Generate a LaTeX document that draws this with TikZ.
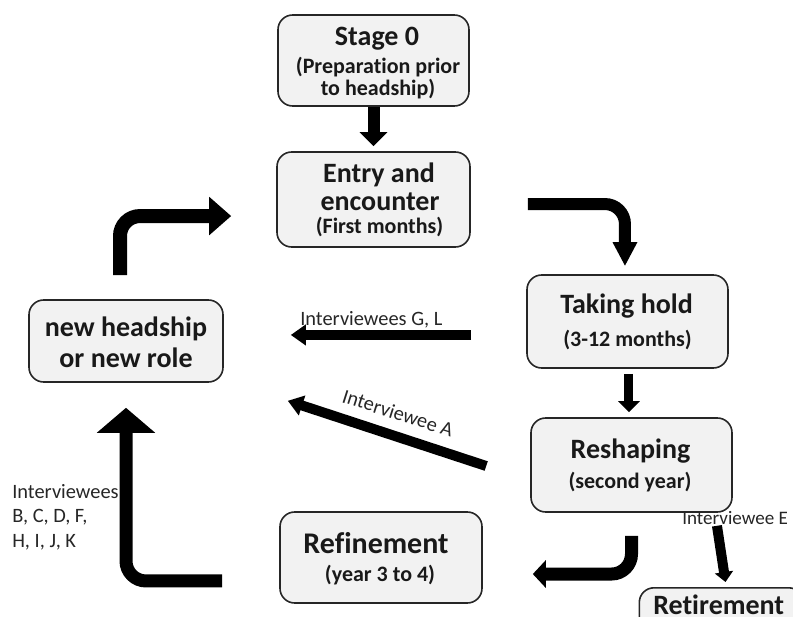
\documentclass[tikz,border=0pt]{standalone}
\usepackage{fontspec}
\setmainfont{Carlito}[Ligatures={NoCommon}]
\usetikzlibrary{arrows.meta}

\newcommand\ttlfont{\fontsize{21}{25}\selectfont\bfseries}
\newcommand\bigttlfont{\fontsize{22.5}{27}\selectfont\bfseries}
\newcommand\subfont{\fontsize{16.5}{20}\selectfont\bfseries}
\newcommand\lblfont{\fontsize{15.3}{18.4}\selectfont}
\newcommand\smalllblfont{\fontsize{14.3}{17}\selectfont}

\tikzset{
  stagebox/.style={draw=black!85, line width=1.2pt, fill=black!5,
    rounded corners=11pt, inner sep=0pt},
  ttl/.style={inner sep=0pt, anchor=base, text=black!90, font=\ttlfont},
  bigttl/.style={inner sep=0pt, anchor=base, text=black!90, font=\bigttlfont},
  sub/.style={inner sep=0pt, anchor=base, text=black!90, font=\subfont},
  lbl/.style={inner sep=0pt, text=black!85, font=\lblfont},
  flow/.style={draw=black, line cap=butt, rounded corners=15pt},
}

\begin{document}
\begin{tikzpicture}[x=0.75pt, y=-0.75pt]
  \useasboundingbox (0,0) rectangle (793,617);
  \clip (0,0) rectangle (793,617);

  % label under the lower edge of the reshaping box
  \node[lbl, font=\smalllblfont, anchor=base west] (le) at (682,524) {Interviewee E};

  % stage boxes
  \node[stagebox, minimum width=143.25pt, minimum height=68.25pt] (s0) at (373.5,60.5) {};
  \node[stagebox, minimum width=144.75pt, minimum height=71.25pt] (entry) at (373.5,199.5) {};
  \node[stagebox, minimum width=150.75pt, minimum height=69.75pt] (taking) at (627.5,321.5) {};
  \node[stagebox, minimum width=150.75pt, minimum height=70.5pt] (reshaping) at (631.5,465) {};
  \node[stagebox, minimum width=151.5pt, minimum height=68.25pt] (refinement) at (381,557.5) {};
  \node[stagebox, minimum width=145.5pt, minimum height=61.5pt] (newrole) at (126,341) {};
  \node[stagebox, minimum width=123pt, minimum height=54pt, anchor=north west] (retbox) at (638.5,587) {};

  % box texts
  \node[ttl] (s0a) at (377,46) {Stage 0};
  \node[sub] (s0b) at (378,74) {(Preparation prior};
  \node[sub] (s0c) at (378,96) {to headship)};

  \node[ttl] (ena) at (379,182) {Entry and};
  \node[ttl] (enb) at (380,210) {encounter};
  \node[sub] (enc) at (379.5,233) {(First months)};

  \node[ttl] (tha) at (626.5,313) {Taking hold};
  \node[sub] (thb) at (627.5,346) {(3-12 months)};

  \node[ttl] (rsa) at (630.5,458) {Reshaping};
  \node[sub] (rsb) at (630,488) {(second year)};

  \node[bigttl] (rfa) at (376,553) {Refinement};
  \node[sub] (rfb) at (380,581) {(year 3 to 4)};

  \node[ttl] (nra) at (126,336) {new headship};
  \node[ttl] (nrb) at (126,367) {or new role};

  \node[ttl, anchor=base west] (reta) at (653,614) {Retirement};

  % main sequence
  \draw[flow, line width=9pt, -{Triangle[width=20.25pt, length=10.5pt]}]
    (s0.south) -- ([yshift=3.75pt]entry.north);
  \draw[flow, line width=9pt, -{Triangle[width=17.25pt, length=18pt]}]
    ([xshift=42.75pt, yshift=-3.4pt]entry.east) -| ([xshift=-1.9pt, yshift=6pt]taking.north);
  \draw[flow, line width=6.75pt, -{Triangle[width=15.75pt, length=8.25pt]}]
    ([xshift=1.1pt, yshift=-3.75pt]taking.south) -- ([xshift=1.1pt, yshift=3.75pt]taking.south |- reshaping.north);
  \draw[flow, line width=9.75pt, -{Triangle[width=20.25pt, length=9.75pt]}]
    ([yshift=-17.25pt]reshaping.south) |- ([xshift=37.5pt, yshift=-12.4pt]refinement.east);
  \draw[flow, line width=7.5pt, -{Triangle[width=13.5pt, length=7.5pt]}]
    ([xshift=64.1pt, yshift=-9.75pt]reshaping.south) -- ([xshift=65.25pt, yshift=3.75pt]retbox.north west);

  % routes to a new headship
  \coordinate (glstart) at ([xshift=-41.25pt, yshift=-10.1pt]taking.west);
  \draw[flow, line width=7.5pt, -{Triangle[width=15pt, length=11.25pt]}]
    (glstart) -- ([xshift=50.25pt]newrole.east |- glstart);
  \draw[flow, line width=7.5pt, -{Triangle[width=15pt, length=11.25pt]}]
    ([xshift=-33pt, yshift=-0.75pt]reshaping.west) -- ([xshift=48pt, yshift=-13.5pt]newrole.south east);
  \draw[flow, line width=9.75pt, -{Triangle[width=42.75pt, length=18.75pt]}]
    ([xshift=-42.75pt, yshift=-17.6pt]refinement.west) -| ([yshift=-18.75pt]newrole.south);
  \draw[flow, line width=10.5pt, -{Triangle[width=27.75pt, length=16.5pt]}]
    ([xshift=-4.5pt, yshift=18pt]newrole.north) |- ([xshift=-33.75pt, yshift=-12.4pt]entry.west);

  % route labels
  \node[lbl, anchor=base west] (lgl) at (300,325) {Interviewees G, L};
  \node[lbl, rotate=-17.7] (la) at (398,413) {Interviewee A};
  \node[lbl, anchor=north west, align=left] (lbk) at (12,484)
    {Interviewees\\B, C, D, F,\\H, I, J, K};
\end{tikzpicture}
\end{document}
